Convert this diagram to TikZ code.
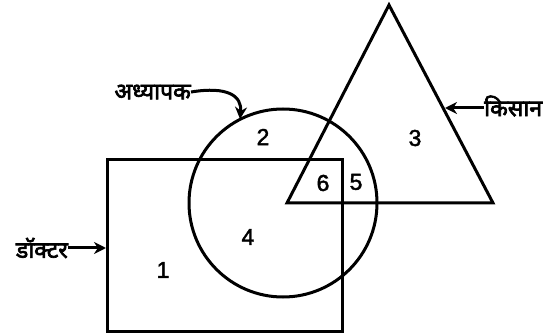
\documentclass[tikz,border=0pt]{standalone}
\usepackage{fontspec}
\setmainfont{Liberation Sans}
\newfontfamily\numfont[FakeBold=2]{Liberation Sans}
\newfontfamily\deva[Script=Devanagari, FakeBold=3]{Noto Sans}
\usetikzlibrary{arrows.meta}
\tikzset{
  shp/.style={line width=3pt, line join=miter},
  lbl/.style={font=\deva\fontsize{23}{23}\selectfont, inner sep=0pt},
  num/.style={font=\numfont\fontsize{23}{23}\selectfont, inner sep=0pt},
  arr/.style={line width=3pt, -{Stealth[length=12pt,width=12pt]}}
}
\begin{document}
\begin{tikzpicture}[x=1pt,y=-1pt]
\useasboundingbox (0,0) rectangle (555,334);
% rectangle
\draw[shp] (107,160) rectangle (342,331);
% circle
\draw[shp] (283,203) circle[radius=94];
% triangle
\draw[shp] (389,5) -- (493,203) -- (287,203) -- cycle;
% numbers
\node[num] (n1) at (163,270) {1};
\node[num] (n2) at (263,137) {2};
\node[num] (n3) at (415,138) {3};
\node[num] (n4) at (248,237) {4};
\node[num] (n5) at (356,182) {5};
\node[num] (n6) at (323,183) {6};
% labels
\node[lbl, anchor=east] (adh) at (191,92) {अध्यापक};
\node[lbl, anchor=west] (kis) at (484,106) {किसान};
\node[lbl, anchor=east] (dok) at (68,248) {डॉक्टर};
\coordinate (adhT) at (240,119);
\coordinate (kisT) at (445,108);
\coordinate (dokT) at (106,248);
\draw[arr] (adh.east) .. controls (228,86) and (242,96) .. (adhT);
\draw[arr] (kis.west |- kisT) -- (kisT);
\draw[arr] (dok.east) -- (dokT);
\end{tikzpicture}
\end{document}
